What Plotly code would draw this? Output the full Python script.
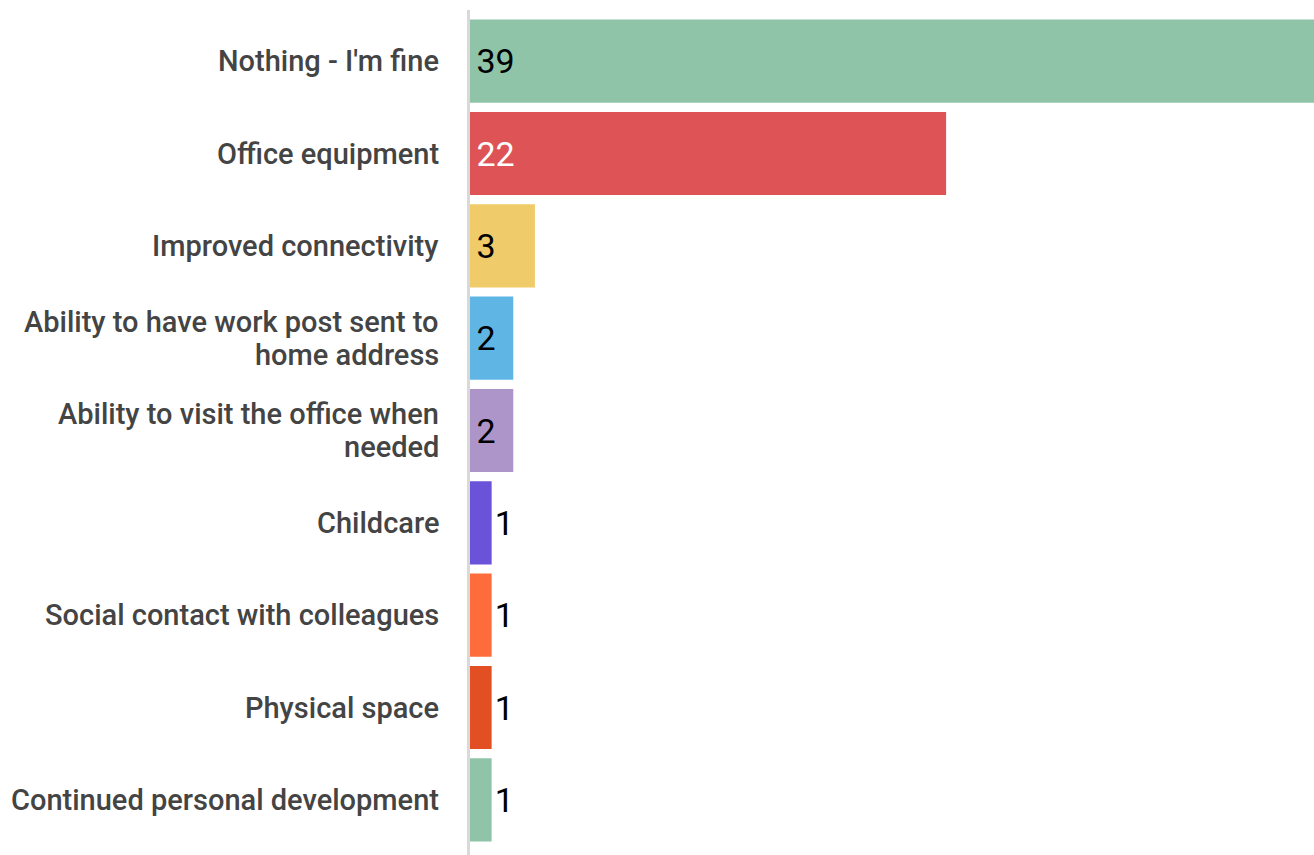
import plotly.graph_objects as go

categories = [
    "Nothing - I'm fine",
    "Office equipment",
    "Improved connectivity",
    "Ability to have work post sent to\nhome address",
    "Ability to visit the office when\nneeded",
    "Childcare",
    "Social contact with colleagues",
    "Physical space",
    "Continued personal development",
]
counts = [39, 22, 3, 2, 2, 1, 1, 1, 1]
bar_colors = ["#8fc4a9", "#de5456", "#f0cb69", "#5fb6e5", "#ae95c9",
              "#6a52d9", "#fd6c3a", "#e24f22", "#8fc4a9"]
value_colors = ["#000000", "#ffffff", "#000000", "#000000", "#000000",
                "#000000", "#000000", "#000000", "#000000"]

FONT = "Roboto"
y_ids = list(range(len(categories)))

fig = go.Figure()
fig.add_trace(go.Bar(
    x=counts,
    y=y_ids,
    orientation="h",
    marker=dict(color=bar_colors, line=dict(width=0)),
    text=["\u200a" + str(v) if v >= 2 else str(v) for v in counts],
    textposition=["inside" if v >= 2 else "outside" for v in counts],
    insidetextanchor="start",
    textfont=dict(family=FONT, size=34, color=value_colors),
    outsidetextfont=dict(family=FONT, size=34, color="#000000"),
    constraintext="none",
    cliponaxis=False,
    hoverinfo="skip",
))

# category labels, one annotation per text line
LINE_GAP = 33
annotations = []
for yi, label in zip(y_ids, categories):
    lines = label.split("\n")
    n = len(lines)
    for k, line in enumerate(lines):
        annotations.append(dict(
            x=0, y=yi, xref="x", yref="y",
            text=line, showarrow=False,
            xanchor="right", yanchor="middle",
            xshift=-29,
            yshift=((n - 1) / 2 - k) * LINE_GAP,
            font=dict(family=FONT, size=29, color="#444444", weight=500),
        ))

fig.update_layout(
    width=1314, height=855,
    margin=dict(l=470, r=0, t=15, b=9),
    paper_bgcolor="white",
    plot_bgcolor="white",
    bargap=0.1,
    showlegend=False,
    annotations=annotations,
    shapes=[dict(
        type="line", xref="paper", yref="paper",
        x0=-0.0018, x1=-0.0018, y0=-0.011, y1=1.006,
        line=dict(color="#d9d9d9", width=3),
        layer="above",
    )],
    xaxis=dict(range=[0, 39], visible=False, fixedrange=True),
    yaxis=dict(range=[len(categories) - 0.5, -0.5], showticklabels=False,
               showgrid=False, zeroline=False, showline=False, ticks=""),
)

fig.write_html("out.html", config={"displayModeBar": False})
